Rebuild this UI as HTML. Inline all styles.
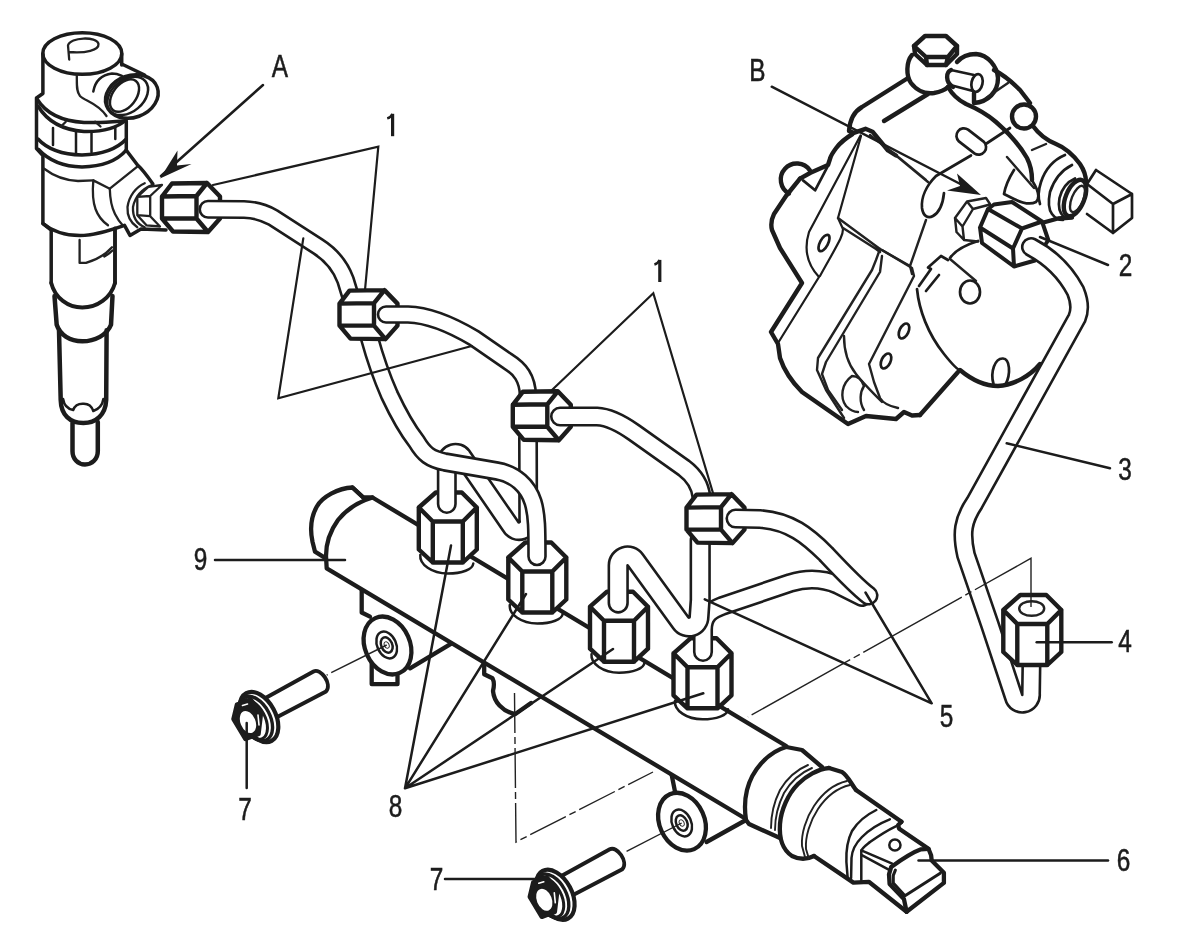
<!DOCTYPE html>
<html><head><meta charset="utf-8">
<style>
html,body{margin:0;padding:0;background:#fff;}
body{width:1200px;height:938px;overflow:hidden;font-family:"Liberation Sans",sans-serif;}
svg{display:block}
.k{fill:none;stroke:#1c1c1c;stroke-width:3.5;stroke-linecap:round;stroke-linejoin:round}
.k2{fill:none;stroke:#1c1c1c;stroke-width:4.4;stroke-linecap:round;stroke-linejoin:round}
.l{fill:none;stroke:#1c1c1c;stroke-width:2.2;stroke-linecap:round;stroke-linejoin:miter}
.m{fill:none;stroke:#1c1c1c;stroke-width:2.5;stroke-linecap:round;stroke-linejoin:round}
.t{fill:none;stroke:#222;stroke-width:1.9;stroke-linecap:round;stroke-linejoin:round}
.h{fill:none;stroke:#333;stroke-width:1;stroke-linecap:butt}
.w{fill:#fff}
#injector .t{stroke-width:2.3}
#pump .t{stroke-width:2.4}
#pump .m{stroke-width:2.7}
text{font-family:"Liberation Sans",sans-serif;font-size:30.5px;fill:#1c1c1c;stroke:#1c1c1c;stroke-width:0.55px}

.n{fill:none;stroke:#1c1c1c;stroke-width:4.4;stroke-linecap:round;stroke-linejoin:round}
.r{fill:none;stroke:#1c1c1c;stroke-width:4.3;stroke-linecap:round;stroke-linejoin:round}
.po{fill:none;stroke:#1c1c1c;stroke-linecap:round;stroke-linejoin:round}
.pi{fill:none;stroke:#fff;stroke-linecap:round;stroke-linejoin:round}
.dd{fill:none;stroke:#222;stroke-width:1.4;stroke-dasharray:62 4 7 4}
</style></head><body>
<svg width="1200" height="938" viewBox="0 0 1200 938">
<rect width="1200" height="938" fill="#fff"/>
<defs>
<g id="hn"><path class="w" d="M0,-11 L10,-24 L45,-24.5 L58,-11 L58,11 L46,24.5 L11,24 L0,11 Z"/>
<path class="n" d="M0,-11 L10,-24 L45,-24.5 L58,-11 L58,11 L46,24.5 L11,24 L0,11 Z M0,-11 L34.5,-11.5 L34.5,11 L0,11 M34.5,-11.5 L45,-24.5 M34.5,11 L46,24.5"/></g>
<g id="vn"><path class="w" d="M0,0 L17,-15 L43,-15 L58,0 L58,42 L44,55 L14,55 L0,42 Z"/>
<path class="n" d="M0,0 L17,-15 L43,-15 L58,0 L44,14 L14,14 Z M0,0 L0,42 L14,55 L44,55 L58,42 L58,0 M14,14 L14,55 M44,14 L44,55"/></g>
<path id="p1" d="M208,209.3 L244,209.5 C256,209.8 264,212.5 273,217.5 L318,246.5 C333,256 341,268 345.5,280 L351,298"/>
<path id="p2" d="M386,314.5 L408,314.5 C430,315 452,325 474,338 L508,361.5 C520,369 527.5,378 528,396"/>
<path id="p3" d="M560,416.5 L597,416.5 C610,417 622,424 634,432.5 L684,468 C694,475.5 700,484 701.5,497"/>
<path id="p5a" d="M735.5,518.5 L760,519 C790,521 808,536 826,554 C842,571 856,586 868.5,595.5"/>
<path id="p5b" d="M703,652 L703,630 C703,614 712,610 722,606 L790,583 C806,578 822,578 838,585 L862,597"/>
<path id="nb" d="M618.2,603 L618.2,565.2 A9.35,9.35 0 0 1 635.2,559.9 L680.8,622.7 A10,10 0 0 0 699,617 L700.2,600 L700.2,540"/>
<path id="na" d="M446.8,504 L446.8,460.7 A8.7,8.7 0 0 1 462.4,456.1 L510.5,526 A9.5,9.5 0 0 0 528.2,519.5 L528,438"/>
<path id="ps" d="M369.5,338 C375,358 382,378 389.5,395 C397,411 406,428 416.5,441.5 C424,454 430,459 445,462 L497,471 C515,474 528,486 533,502 C537,515 537,530 537,556.5"/>
<path id="pp3" d="M1031,247 C1050,257 1066,273 1075.5,291 C1080,302 1080,311 1077,318 L974.5,503 C963,520 961,533 966,555 L990,625 L1013.8,697 A8.75,8.75 0 0 0 1031,694 L1031.5,660"/>
</defs>

<!-- RAIL -->
<g id="rail">
<!-- boss 1 -->
<path class="r" d="M361.7,590 L361.7,612.5 L370,616.7"/>
<path class="r" d="M410,668.3 L451.7,643.3"/>
<path class="r" d="M371.7,655 L371.7,684.2 L397.5,684.2 L397.5,675"/>
<ellipse class="r w" cx="387.5" cy="645.5" rx="22.5" ry="30" transform="rotate(-24 387.5 645.5)" style="fill:#fff"/>
<ellipse class="m" cx="386.7" cy="645" rx="9.5" ry="14" transform="rotate(-24 386.7 645)"/>
<ellipse class="m" cx="386.7" cy="645" rx="5.5" ry="8" transform="rotate(-24 386.7 645)"/>
<ellipse class="h" cx="386.7" cy="645" rx="2.3" ry="3.4" transform="rotate(-24 386.7 645)"/>
<!-- boss 2 -->
<path class="r" d="M671.7,775 L675,791.7"/>
<path class="r" d="M706.5,842 L746,820"/>
<ellipse class="r" cx="682" cy="821.7" rx="22.5" ry="30" transform="rotate(-24 682 821.7)" style="fill:#fff"/>
<ellipse class="m" cx="681.7" cy="823" rx="9.5" ry="14" transform="rotate(-24 681.7 823)"/>
<ellipse class="m" cx="681.7" cy="823" rx="5.5" ry="8" transform="rotate(-24 681.7 823)"/>
<ellipse class="h" cx="681.7" cy="823" rx="2.3" ry="3.4" transform="rotate(-24 681.7 823)"/>
<!-- rail body -->
<path class="w" d="M372.5,497.5 L786.2,746 L746,819 L326.7,568.3 C324,545 335,515 372.5,497.5 Z"/>
<path class="r" d="M363.3,497.5 L352.5,487.5 C338,488 322,497 316.7,506.7 C311,517 310,530 312.5,541.7 L315,551.7 L325.8,558.3"/>
<path class="r" d="M372.5,497.5 C358,502 346,510 338,520 C330,531 326,545 326,556 L326.7,568.3 L746,819"/>
<path class="r" d="M352.5,487.5 L363.3,497.5 L372.5,497.5 L786.2,746"/>
<!-- mid bracket -->
<path class="r" d="M484.2,664 L484.2,674.2 L492.5,678.3 C495,683 494,687 493,691 C494,702 502,711 515,714.2 L531,703"/>
<!-- sensor end -->
<path class="w" d="M786.2,747 L822,767 L829,768 L856,790 L901.5,821.7 L898,825 L928.5,848.8 L943.9,872.8 L943.9,882.9 L906.6,911.7 L868.8,881.8 L853.4,882.6 L814,856 L790,854 L780,838 L746,820 C742,790 760,755 786.2,747 Z"/>
<path class="r" d="M786.2,747 C768,752 752,770 747,790 C744.5,800 744.5,810 746,820"/>
<path class="r" d="M786.2,747 L802,750 L822,767"/>
<path class="r" d="M746,820 L749,824 L780,838"/>
<path class="t" d="M808,765 C796,770 786,780 780,790 C774,802 771,814 771,828"/>
<path class="t" d="M812,768 C800,773 790,783 784,793 C778,805 775,817 775,830"/>
<path class="r" d="M829,768 C818,769 806,776 798,784 C788,794 781,810 780,824 C779,838 783,850 792,856 C800,860 808,859 814,856"/>
<path class="r" d="M829,768 L842,772 C848,776 850,782 856,790"/>
<path class="t" d="M847,781 C834,784 822,794 814,806 C806,818 801,834 802,846 L805,857"/>
<path class="t" d="M850,785 C837,788 826,797 818,809 C810,821 805,837 806,849 L809,859"/>
<path class="r" d="M856,790 L901.5,821.7"/>
<path class="r" d="M814,856 L853.4,882.6 L868.8,881.8 L906.6,911.7"/>
<path class="m" d="M876.3,810 C866,815 857,823 852,831 C847,841 846,852 846.4,862 L847.6,877"/>
<path class="m" d="M889.8,819.3 C878,824 868.7,830 862,837 C856,843 852,850 851.5,858 L851.1,878"/>
<path class="m" d="M895.7,826.3 C886,831 877,837 870,842 C865,846 862,848 861.3,851 L861.3,880"/>
<path class="r" d="M901.5,821.7 L898,825.2 L899.2,828.7 L928.5,848.8 L931.1,855.2 L931.7,860.5 L943.9,872.8 L943.9,882.9 L906.6,911.7"/>
<path class="r" d="M928.5,848.8 L921,849.3 C912,852.5 903,858.5 891.2,866.9 L889,874.4 L889.6,883.9 L903.9,898.9 L906.6,911.7"/>
<path class="m" d="M895.4,870.1 L893.3,875.4 L893.3,882.9 L905,895.7 L940.2,873.3" style="stroke-width:3"/>
<path class="m" d="M861.3,850.4 L892.2,863.7 M861.8,855.2 L889.6,870.1"/>
<circle class="m" cx="894.9" cy="845" r="5.6"/>
</g>
<!-- seats + rail nuts -->
<g id="railnuts">
<path class="m" d="M420.3,555.0 C419.3,564.5 431.8,573.5 447.8,573.5 C461.8,573.5 472.8,569.5 473.3,563.5"/>
<path class="m" d="M509.8,605.0 C508.8,614.5 521.3,623.5 537.3,623.5 C551.3,623.5 562.3,619.5 562.8,613.5"/>
<path class="m" d="M591.5,654.2 C590.5,663.7 603,672.7 619,672.7 C633,672.7 644,668.7 644.5,662.7"/>
<path class="m" d="M675.0,700.8 C674.0,710.3 686.5,719.3 702.5,719.3 C716.5,719.3 727.5,715.3 728.0,709.3"/>
<use href="#vn" x="418.8" y="507.5"/>
<use href="#vn" x="508.3" y="557.5"/>
<use href="#vn" x="590" y="606.7"/>
<use href="#vn" x="673.5" y="653.3"/>
</g>
<g id="pipes">
<use href="#p5b" class="po" stroke-width="20.1"/><use href="#p5b" class="pi" stroke-width="14.9"/>
<use href="#nb" class="po" stroke-width="21.3"/><use href="#nb" class="pi" stroke-width="16.1"/>
<use href="#na" class="po" stroke-width="20.0"/><use href="#na" class="pi" stroke-width="14.8"/>
<use href="#ps" class="po" stroke-width="19.6"/><use href="#ps" class="pi" stroke-width="14.4"/>
</g>
<!-- INJECTOR -->
<g id="injector">
<!-- top cap -->
<ellipse class="k" cx="82.3" cy="53.5" rx="39.5" ry="20.8"/>
<path class="t" d="M68,45.5 L69.2,59.5 M68,45.5 C70,37 97,36 98.5,44 C99,50 86,53.5 69,52"/>
<path class="k" d="M42.9,54 L42.9,93.5 L36.5,98 L36.5,148.5 L42.9,155.5 L42.9,223.5 L51.2,230 L51.2,283"/>
<path class="k" d="M121.7,54 L121.7,65"/>
<!-- port -->
<path class="k" d="M121.7,64 L144.6,75"/>
<ellipse class="k" style="fill:#fff" cx="131.85" cy="96.5" rx="27" ry="21" transform="rotate(-20 131.85 96.5)"/>
<ellipse class="m" cx="127.7" cy="95.9" rx="23" ry="16" transform="rotate(-40 127.7 95.9)"/>
<ellipse class="m" cx="124.5" cy="95.6" rx="18.5" ry="11.5" transform="rotate(-52 124.5 95.6)"/>
<path class="t" d="M76.8,75 C77,84 76,91 80,96 C85,101 98,103 106.5,116"/>
<path class="m" d="M93.3,91.5 C95,82 100,75 112,73.5 C116,73.5 119,74.5 122,75.8"/>
<!-- collar -->
<path class="k" d="M37,99 C45,112 60,121 84,122.5 C100,123 112,121.5 125,121"/>
<path class="k" d="M38,106 C47,121 62,130 84,131.5 C104,132 118,127 126,120"/>
<path class="t" d="M65.8,121.7 L61,126.5 M95,121.7 L100.5,126.5"/>
<path class="m" d="M53,128 L53,145 M76,131.5 L76,153 M91.5,131.5 L91.5,152 M115.3,127 L115.3,139"/>
<path class="k" d="M38,139 C48,150 62,154.5 82,155 C102,154.5 116,150 126.3,139"/>
<path class="k" d="M38.3,149.3 C50,162 65,166.7 82,167 C100,166.7 116,162 126.3,150.2"/>
<path class="k" d="M126.3,121 L126.3,150.2"/>
<path class="t" d="M43.8,168.5 C55,177 66,180.5 78,181 L93.3,180.4"/>
<!-- branch -->
<path class="k" d="M126.3,150.2 L137.3,164.8 C142,169 148,177 152.9,184"/>
<path class="t" d="M137.3,166.7 L109.8,188.7 L93.3,180.4 C92.5,190 93,202 95.5,209 C98,216 102,221 108,225.3"/>
<path class="t" d="M109.8,188.7 C110,198 112,208 115,214 C117.5,219 120,222.5 122.7,225.3"/>
<path class="k" d="M42.9,223.5 C52,231 66,235.5 80,235.5 C94,235.5 108,231 124.5,225.3 L130,235.4 L141,229 L166,230"/>
<path class="t" d="M144.7,183.2 C136,187 129,196 127.5,207 C127,216 131,223 137.3,227.2"/>
<path class="t" d="M152,185 C142,189 135,197 133,207 C132.5,217 137,224 144.7,227.2"/>
<!-- small union nut -->
<path class="t" d="M137.3,196.9 L137.3,215.2 L150.2,216.2 L150.2,196 Z M137.3,196.9 L148.3,186.8 L162,185 L150.2,196 M137.3,215.2 L146.5,225.3 L160,226.5 L150.2,216.2"/>
<!-- lower body -->
<path class="k" style="stroke-width:3.9" d="M115,228.5 L115,283"/>
<path class="t" d="M79.6,240 L79.6,262.9 L86,262.9 C96,260 106,254 112,247.3 M104.3,256.5 C107,255 110,253 112.5,250.5"/>
<path class="k" style="stroke-width:3.9" d="M51.2,283 C55,298 68,307.5 82.3,307.5 C97,307.5 111,298 115,283"/>
<path class="k" style="stroke-width:4.5" d="M54.5,296 L56.7,324.8 C60,335 70,341.3 82.3,341.3 C95,341.3 107,335 111,324.8 L112.5,296"/>
<path class="k" style="stroke-width:4.5" d="M59,330.3 L60.7,400 C61,415 70,423 83.3,423 C96,423 105.5,415 106.2,400 L106.6,330.3"/>
<path class="m" d="M63.1,399 C64,405 68,409 73.2,410 C75,405 79,403.5 83.3,403.7 C88,403.5 91.5,405.5 93.3,411 C99,409 102.5,405 103.4,399"/>
<path class="k" style="stroke-width:4.5" d="M72.5,423 L72.5,451.3 C72.5,459 78,464.5 85,464.5 C92,464.5 97.8,459 97.8,451.3 L97.8,422"/>
</g>
<g id="upper">
<use href="#hn" x="162" y="207.5"/>
<use href="#p1" class="po" stroke-width="19.1"/><use href="#p1" class="pi" stroke-width="13.9"/>
<use href="#hn" x="339.5" y="314.6"/>
<use href="#p2" class="po" stroke-width="18.6"/><use href="#p2" class="pi" stroke-width="13.4"/>
<use href="#hn" x="512.8" y="415.8"/>
<use href="#p3" class="po" stroke-width="20.1"/><use href="#p3" class="pi" stroke-width="14.9"/>
<use href="#hn" x="686.5" y="518.6"/>
<use href="#p5a" class="po" stroke-width="20.1"/><use href="#p5a" class="pi" stroke-width="14.9"/>
</g>
<!-- PUMP -->
<g id="pump">
<!-- motor -->
<path class="m" d="M917,289 C919,310 928,334 944,354 C952,364 958,370 960,370"/>
<path class="m" d="M978,241 C962,246 954,252 950,258"/>
<path class="k2" d="M960,370 C972,380 986,386 998,386 C1014,385 1030,376 1040,364"/>
<path class="k2" d="M958,372 L920,415"/>
<path class="m" d="M993.5,384 C990,372 995,358 1003,358.5 C1010,359 1011,374 1005.5,384.5"/>
<ellipse class="m" cx="970" cy="292" rx="10" ry="11.5"/>
<path class="t" d="M950,259 L976,281"/>
<path class="m" d="M919,286 L931,269 L928,267.5 L941,256 L948,260 M926,291 L939,275"/>
<!-- lower left body -->
<path class="k2" d="M852.6,134 C846,138 840,143 836.2,148 C832.5,153 830.5,157 830.3,158 L828,165 L810.5,172.8 L800,178.6"/>
<path class="k2" d="M810,170.5 A16,16 0 1 0 789,193.5"/>
<path class="k2" d="M800,178.6 L786,196 L774,214 C771,220 771,226 772,230 L780,248 L802,283 L771,332 L778,344 L780,358 C784,370 792,382 802,392 L848,424 L866,416 L896,419 L904,412 L912,415.5 L920,415"/>
<path class="m" d="M803,180.4 L815.1,190.3 L827.4,166.9"/>
<path class="k2" d="M850.3,131.7 L853.8,132.9 L865.5,128.8 L872.5,131.7 L888,150.5 L896,155.5"/>
<path class="t" d="M896,155.5 L928,182 M870,135 L900,158.5 L926,180"/>
<path class="m" style="stroke-width:2.2" d="M860.5,135.5 L809,232 C805,245 805,262 819,277 L778,343"/>
<path class="m" style="stroke-width:2.2" d="M861,136 L838,218 L843,229 C843,236 840,240 820,276"/>
<ellipse class="m" cx="824" cy="243" rx="4" ry="9" transform="rotate(28 824 243)"/>
<path class="t" d="M838,218 L880,249 L910,266 M843,228 L876,249 L880,252"/>
<path class="t" d="M880,249 L876,260 L872,270 L818,358 L817,370 L826,390 L844,418"/>
<path class="t" d="M882,256 L880,272 L826,362 L822,374 L828,390 L842,410"/>
<path class="t" d="M882,250 L912,268 L914,276 L869,364 L874,382 L880,398 C883,403 888,406 898,408"/>
<path class="t" d="M844,336 C844,350 848,364 856,374 C862,382 872,392 882,402"/>
<path class="t" d="M846,406 C840,398 841,384 852,376 C858,376 862,380 864,386 C860,392 859,402 864,410 M846,406 C850,410 854,412 858,412"/>
<ellipse class="m" cx="904" cy="331" rx="4.5" ry="8" transform="rotate(25 904 331)"/>
<ellipse class="m" cx="886" cy="361" rx="4.5" ry="8" transform="rotate(25 886 361)"/>
<path class="t" d="M926,220 L910,266 L912,274"/>
<!-- top face features -->
<path class="m" d="M971,155.5 L936,176 C926,186 921,198 922,208 C923,216 928,219 933,216 C940,212 943,203 944,193"/>
<path class="m" d="M968.1,129.6 L983.6,141.6 A7.5,7.5 0 0 1 974.4,153.4 L958.9,141.4 A7.5,7.5 0 0 1 968.1,129.6 Z"/>
<path class="m" d="M1010,128 L986.5,143.5"/>
<!-- top: bolt, circles -->
<path class="k2" d="M908,78 L862,107 C855,111 850,118 849,131"/>
<path class="k2" d="M928,94 L884,121"/>
<path class="k2" d="M912,55 C906,62 906,76 911,83 C917,91 926,94 934,93 C940,92 945,90 948,87"/>
<path class="k2" style="fill:#fff" d="M914,46 L925,36 L946,36 L957,46 L957,54 L946,65 L927,65 L915,54 Z"/>
<path class="k2" d="M914,46 L926,57 L948,57 L957,46 M926,57 L927,65 M948,57 L946,65"/>
<path class="k2" d="M957,62 C963,55 970,54 976,54 C988,55 997,66 998,78 C998,92 988,102 974,103 L974,93"/>
<path class="k2" d="M948,87 C952,94 958,100 966,104 C978,109 988,115 996,122 C1010,134 1020,146 1027,158 C1031,166 1032,172 1032,180"/>
<path class="m" d="M951,70 L974,75 M954,86 L973,91"/>
<path class="k2" d="M951,70 C946,72 945,82 953,87"/>
<ellipse class="m" cx="977" cy="83" rx="5.5" ry="9" transform="rotate(12 977 83)"/>
<path class="k2" d="M994,70 C1002,74 1012,82 1020,90 L1030,103"/>
<path class="t" d="M986,98 L1008,83"/>
<circle class="k2" cx="1024" cy="116.5" r="12"/>
<path class="k2" d="M1033,126 C1038,133 1046,140 1056,144 C1066,148 1074,156 1080,164 C1084,170 1086,176 1086,182"/>
<path class="t" d="M1032,150 L1046,144 M1007,157 L1034,188"/>
<!-- tab -->
<path class="m" d="M1014,170 C1009,178 1005,188 1004,194 L1014,199 C1022,203 1030,205 1036,202 C1040,198 1038,190 1033,182"/>
<!-- outlet cylinder -->
<path class="m" d="M1065,155 C1053,160 1045,170 1041,182 C1038,191 1038,198 1040,204"/>
<path class="m" d="M1075,178.5 C1067,182 1061.5,190 1059.5,198 C1058,206 1059.5,213 1064,217"/>
<path class="m" d="M1072,165 C1062,170 1054,180 1050,192 C1048,202 1049,210 1052,214 C1055,218 1059,220 1063,220"/>
<ellipse class="k2" cx="1075" cy="198" rx="9.3" ry="19.2" transform="rotate(22 1075 198)"/>
<ellipse class="t" cx="1077.5" cy="199" rx="5.8" ry="14" transform="rotate(22 1077.5 199)"/>
<path class="k2" d="M1072,217.5 L1058,218.5 L1038,224"/>
<!-- connector block -->
<path class="m" d="M1087,184 L1096,170 L1132,194 L1132,218 L1113,233 L1113,204 L1132,194 M1087,184 L1113,204 M1087,214 L1113,233"/>
<!-- small union nut -->
<path class="t" d="M955,218 L967,201.5 L986,198 L990,204 M967,201.5 L973,209 L990,204.5 M955,218 L962.5,226.5 L973,209 M955,218 L956.5,232 L964,240 L978,241.5 M962.5,226.5 L964,240"/>
<!-- big nut 2 -->
<path class="w" d="M988,209 L994,204.5 L1012,202 L1042,221.5 L1048.3,240 L1035,260.5 L1014,266.5 L982,243 L980,227.5 Z"/>
<path class="n" style="stroke-width:4" d="M988,209 L994,204.5 L1012,202 L1042,221.5 L1048.3,240 L1035,260.5 L1014,266.5 L982,243 L980,227.5 Z M988,209 L1022,228.5 L1042,221.5 M1022,228.5 L1013,248.5 L1014,266.5 M1013,248.5 L980,227.5"/>
<use href="#pp3" class="po" stroke-width="20.1"/><use href="#pp3" class="pi" stroke-width="14.9"/>
<!-- nut 4 -->
<use href="#vn" x="1003.3" y="610"/>
<ellipse class="t" cx="1031.7" cy="608.5" rx="12.5" ry="7.3"/>
</g>
<!-- BOLTS -->
<defs><g id="bolt">
<path style="fill:#fff;stroke:#1c1c1c;stroke-width:3.9;stroke-linejoin:round;stroke-linecap:round" d="M0,0 L48,-26.5 C55,-30.5 67,-14 60.5,-6.5 L10.8,19.5"/>
<ellipse style="fill:#fff;stroke:#1c1c1c;stroke-width:4.2" cx="-6.5" cy="19" rx="16.5" ry="27" transform="rotate(-28 -6.5 19)"/>
<ellipse style="fill:none;stroke:#1c1c1c;stroke-width:3.4" cx="-10" cy="20.5" rx="14.5" ry="24" transform="rotate(-28 -10 20.5)"/>
<ellipse style="fill:none;stroke:#1c1c1c;stroke-width:3" cx="-13" cy="21.5" rx="12.5" ry="21.5" transform="rotate(-28 -13 21.5)"/>
<path style="fill:#1c1c1c;stroke:#1c1c1c;stroke-width:4.5;stroke-linejoin:round" d="M-32,21 L-28.5,6.5 L-15,1.5 L-4.5,15 L-7,36 L-20,41 Z"/>
<ellipse style="fill:#fff;stroke:none" cx="-17.5" cy="24" rx="7.5" ry="11.5" transform="rotate(-22 -17.5 24)"/>
<path style="fill:none;stroke:#fff;stroke-width:1.6;stroke-linecap:round" d="M-23,7.5 L-18,6 M-7.5,17 L-6.5,27"/>
</g></defs>
<g id="bolts">
<use href="#bolt" x="265.5" y="698"/>
<use href="#bolt" x="561.8" y="875.8"/>
</g>
<!-- LEADERS -->
<g id="leaders">
<path class="m" d="M263,85 L161,176"/>
<path d="M160,178.5 L177.5,150.5 L177,165.5 L191.5,164 Z" fill="#1c1c1c"/>
<path class="m" d="M771.7,86.7 L972,190"/>
<path d="M981,195 L957,173.5 L960,186 L947,190.5 Z" fill="#1c1c1c"/>
<path class="l" d="M213,185 L378.3,146.7 L365,290"/>
<path class="l" d="M303.3,238.3 L278.3,398.3 L471.7,346"/>
<path class="l" d="M552,390 L653.3,293.3 L713,493"/>
<path class="m" d="M1040,237 L1108,265"/>
<path class="m" d="M1006.7,443.3 L1110,468.3"/>
<path class="m" d="M1036.7,642.3 L1111.7,642.3"/>
<path class="m" d="M865.5,592.5 L931.7,703.3 L704.8,599.3"/>
<path class="m" d="M918.5,860.5 L1108,860.5"/>
<path class="m" d="M246.7,723 L246.7,788"/>
<path class="m" d="M445,879 L536,879"/>
<path class="m" d="M451,545.5 L405,788.3 L526,594 M405,788.3 L613,649 M405,788.3 L703.3,693.3"/>
<path class="m" d="M215,560 L345,560"/>
<path class="dd" d="M386.7,645 L326.7,675"/>
<path class="dd" d="M681.7,823 L623.3,853"/>
<path class="dd" d="M514.5,693 L516,842 L653,772" style="stroke-dasharray:40 4 7 4"/>
<path class="dd" d="M1031,607 L1031,558.3 L748,717" style="stroke-dasharray:49 0 64 4 7 4"/>
</g>
<g id="labels" style="opacity:0.999">
<text transform="translate(280,76.5) scale(0.8,1)" text-anchor="middle">A</text>
<text transform="translate(757.5,80.5) scale(0.8,1)" text-anchor="middle">B</text>
<path d="M392.6,113.8 L392.6,136.2" style="fill:none;stroke:#1c1c1c;stroke-width:3.2"/><path d="M387.2,118.4 Q390.8,117.4 392.4,113.9" style="fill:none;stroke:#1c1c1c;stroke-width:2.5"/>
<path d="M659.8,259.9 L659.8,282" style="fill:none;stroke:#1c1c1c;stroke-width:3.2"/><path d="M654.4,264.5 Q658,263.5 659.6,260" style="fill:none;stroke:#1c1c1c;stroke-width:2.5"/>
<text transform="translate(1125.5,275.5) scale(0.8,1)" text-anchor="middle">2</text>
<text transform="translate(1125,480) scale(0.8,1)" text-anchor="middle">3</text>
<text transform="translate(1125,652) scale(0.8,1)" text-anchor="middle">4</text>
<text transform="translate(946.5,727) scale(0.8,1)" text-anchor="middle">5</text>
<text transform="translate(1123.5,870.5) scale(0.8,1)" text-anchor="middle">6</text>
<text transform="translate(245,819.5) scale(0.8,1)" text-anchor="middle">7</text>
<text transform="translate(436.5,890) scale(0.8,1)" text-anchor="middle">7</text>
<text transform="translate(395.5,817) scale(0.8,1)" text-anchor="middle">8</text>
<text transform="translate(200.5,569.8) scale(0.8,1)" text-anchor="middle">9</text>
</g>
</svg>
</body></html>
